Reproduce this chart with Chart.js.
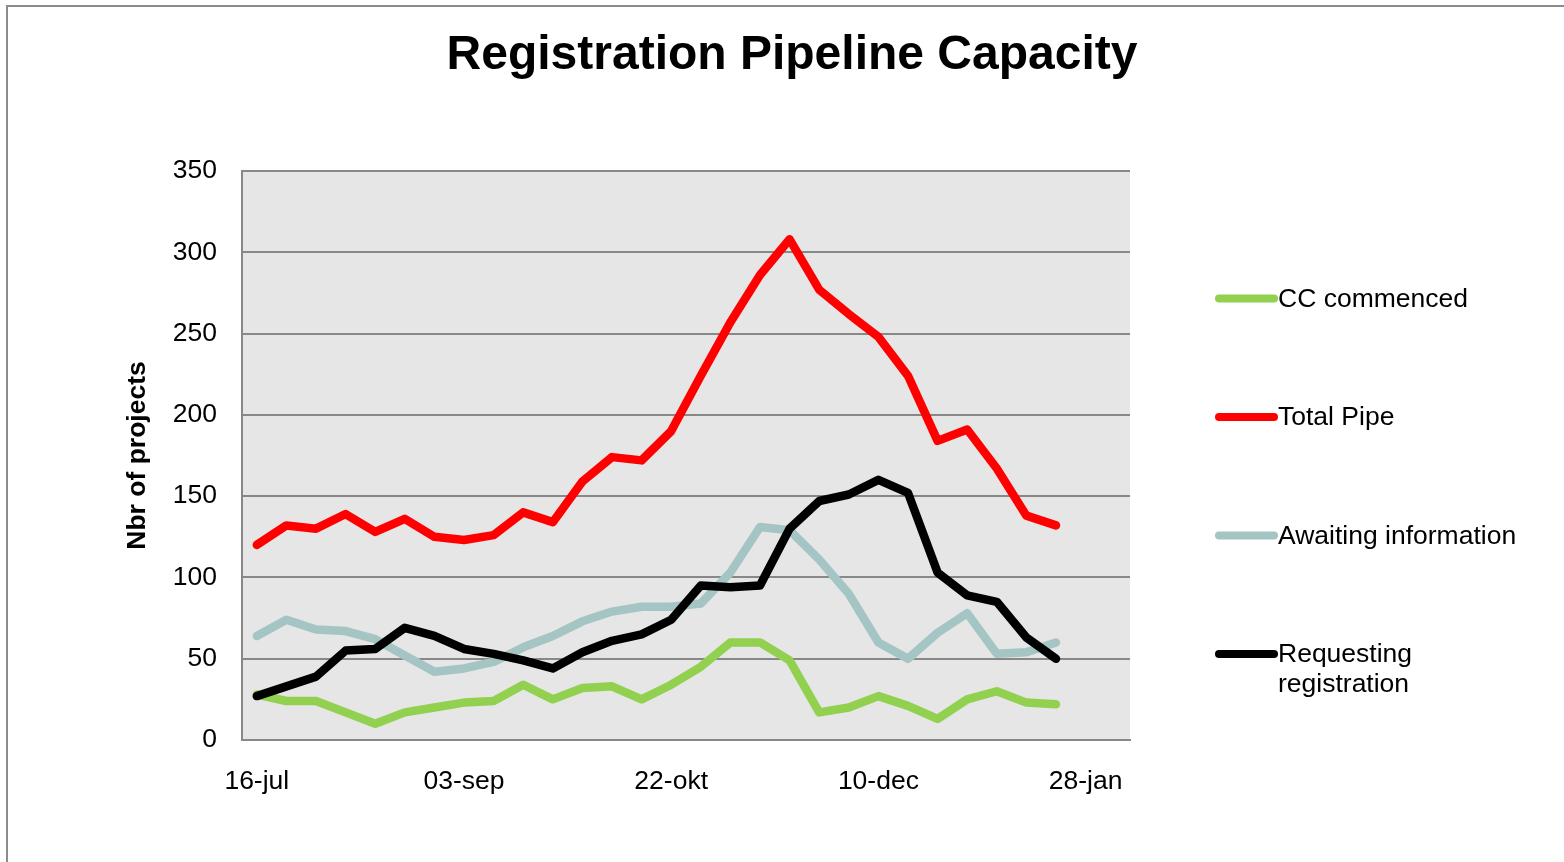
<!DOCTYPE html>
<html>
<head>
<meta charset="utf-8">
<title>Registration Pipeline Capacity</title>
<script src="https://cdn.jsdelivr.net/npm/chart.js@4.4.1/dist/chart.umd.min.js"></script>
<style>
    html, body { margin: 0; padding: 0; background: #fff; overflow: hidden; }
    #wrap { position: relative; width: 1564px; height: 862px; }
    #frame { position: absolute; left: 6px; top: 5px; width: 3000px; height: 3000px;
             border-left: 2px solid #8c8c8c; border-top: 2px solid #8c8c8c; pointer-events: none; }
</style>
</head>
<body>
<div id="wrap">
    <canvas id="chart" width="1564" height="862"></canvas>
    <div id="frame"></div>
</div>
<script>
// weekly snapshots, 16-jul .. 21-jan
const weeks = ['16-jul', '23-jul', '30-jul', '06-aug', '13-aug', '20-aug', '27-aug',
    '03-sep', '10-sep', '17-sep', '24-sep', '01-okt', '08-okt', '15-okt',
    '22-okt', '29-okt', '05-nov', '12-nov', '19-nov', '26-nov', '03-dec',
    '10-dec', '17-dec', '24-dec', '31-dec', '07-jan', '14-jan', '21-jan'];

const tickWeeks = [0, 7, 14, 21, 28];
const tickLabels = ['16-jul', '03-sep', '22-okt', '10-dec', '28-jan'];

const ccCommenced = [28, 24, 24, 17, 10, 17, 20, 23, 24, 34, 25, 32, 33, 25,
    34, 45, 60, 60, 49, 17, 20, 27, 21, 13, 25, 30, 23, 22];
const totalPipe = [120, 132, 130, 139, 128, 136, 125, 123, 126, 140, 134, 159, 174, 172,
    190, 224, 257, 286, 308, 277, 262, 248, 224, 184, 191, 167, 138, 132];
const awaitingInfo = [64, 74, 68, 67, 62, 52, 42, 44, 48, 57, 64, 73, 79, 82,
    82, 84, 103, 131, 129, 111, 90, 60, 50, 66, 78, 53, 54, 60];
const requestingReg = [27, 33, 39, 55, 56, 69, 64, 56, 53, 49, 44, 54, 61, 65,
    74, 95, 94, 95, 130, 147, 151, 160, 152, 103, 89, 85, 63, 50];

const seriesNames = ['CC commenced', 'Total Pipe', 'Awaiting information', ['Requesting', 'registration']];
const seriesColors = ['#92D050', '#FF0000', '#A5C5C5', '#000000'];

const FONT = "'Liberation Sans', Arial, sans-serif";

function toPoints(values) {
    return values.map((v, i) => ({ x: i, y: v }));
}

const plotBackground = {
    id: 'plotBackground',
    beforeDraw(chart) {
        const a = chart.chartArea;
        const ctx = chart.ctx;
        ctx.save();
        ctx.fillStyle = '#E6E6E6';
        ctx.fillRect(a.left, a.top, a.right - a.left, a.bottom - a.top);
        ctx.restore();
    }
};

// legend on the right, one line sample per series
const sideLegend = {
    id: 'sideLegend',
    afterDraw(chart) {
        const ctx = chart.ctx;
        const x0 = chart.chartArea.right + 89;
        const y0 = 299.5;
        const step = 118.5;
        ctx.save();
        ctx.font = '26.5px ' + FONT;
        ctx.textBaseline = 'middle';
        ctx.textAlign = 'left';
        chart.data.datasets.forEach((ds, i) => {
            const y = y0 + i * step;
            ctx.strokeStyle = ds.borderColor;
            ctx.lineWidth = 8;
            ctx.lineCap = 'round';
            ctx.beginPath();
            ctx.moveTo(x0, y - 1);
            ctx.lineTo(x0 + 55, y - 1);
            ctx.stroke();
            ctx.fillStyle = '#000';
            const lines = Array.isArray(ds.label) ? ds.label : [ds.label];
            lines.forEach((t, j) => ctx.fillText(t, x0 + 59, y + j * 30));
        });
        ctx.restore();
    }
};

const datasets = [ccCommenced, totalPipe, awaitingInfo, requestingReg].map((vals, i) => ({
    label: seriesNames[i],
    data: toPoints(vals),
    borderColor: seriesColors[i],
    backgroundColor: seriesColors[i],
    borderWidth: 8.5,
    borderCapStyle: 'round',
    borderJoinStyle: 'round',
    pointRadius: 0,
    tension: 0,
    order: 4 - i
}));

const ctx = document.getElementById('chart').getContext('2d');
new Chart(ctx, {
    type: 'line',
    data: { datasets: datasets },
    options: {
        responsive: false,
        animation: false,
        layout: { padding: { left: 20, right: 0, top: 0, bottom: 0 } },
        plugins: {
            legend: { display: false },
            tooltip: { enabled: false },
            title: {
                display: true,
                text: 'Registration Pipeline Capacity',
                color: '#000',
                font: { family: FONT, size: 48, weight: 'bold' },
                padding: { top: 27, bottom: 86.4 }
            }
        },
        scales: {
            x: {
                type: 'linear',
                min: -0.5,
                max: 29.5,
                afterBuildTicks: s => { s.ticks = tickWeeks.map(v => ({ value: v })); },
                afterFit: s => { s.height = 122; },
                ticks: {
                    autoSkip: false,
                    maxRotation: 0,
                    padding: 26,
                    color: '#000',
                    font: { family: FONT, size: 26.5 },
                    callback: v => tickLabels[tickWeeks.indexOf(v)]
                },
                grid: { display: true, drawOnChartArea: false, drawTicks: false },
                border: { display: true, color: '#888888', width: 2 }
            },
            y: {
                min: 0,
                max: 350,
                afterFit: s => { s.width = 222; },
                ticks: {
                    stepSize: 50,
                    padding: 25,
                    color: '#000',
                    font: { family: FONT, size: 26.5 }
                },
                grid: { color: '#888888', lineWidth: 2, drawTicks: false },
                border: { display: true, color: '#888888', width: 2 },
                title: {
                    display: true,
                    text: 'Nbr of projects',
                    color: '#000',
                    font: { family: FONT, size: 26.5, weight: 'bold' },
                    padding: { top: 102, bottom: 0 }
                }
            },
            legendSpace: {
                type: 'linear',
                position: 'right',
                display: true,
                afterFit: s => { s.width = 434; },
                ticks: { display: false },
                grid: { display: false },
                border: { display: false }
            }
        }
    },
    plugins: [plotBackground, sideLegend]
});
</script>
</body>
</html>
